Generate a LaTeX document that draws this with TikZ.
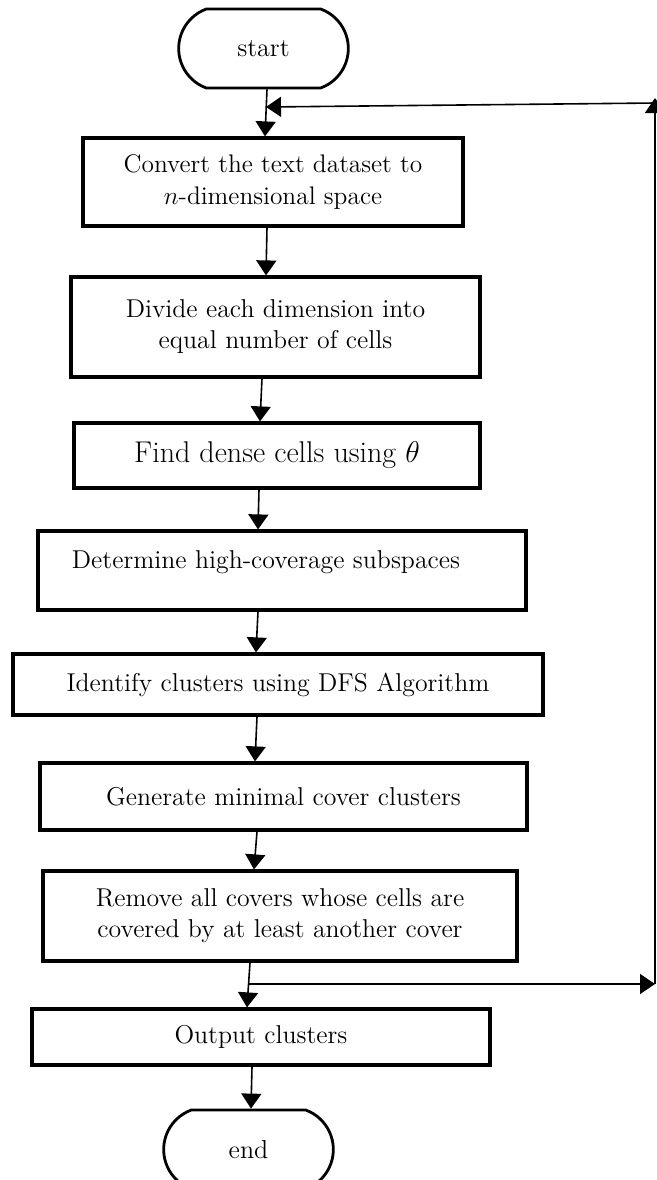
\RequirePackage{fix-cm}
\documentclass[tikz,border=0pt]{standalone}
\usetikzlibrary{shapes.misc,arrows.meta}
\tikzset{
  procbox/.style={draw, line width=1.6pt, rectangle, align=center, inner sep=2pt,
    font=\fontsize{12.9}{15.5}\selectfont},
  termbox/.style={draw, line width=1.4pt, rounded rectangle, rounded rectangle arc length=140,
    minimum width=91.5pt, minimum height=39.5pt, font=\fontsize{13}{15.5}\selectfont},
  flow/.style={line width=0.8pt, -{Triangle[length=7.5pt,width=10pt]}},
}
\begin{document}
\begin{tikzpicture}[x=0.5pt,y=-0.5pt]
		\useasboundingbox (0,0) rectangle (657,1180);
		%terminals
		\node[termbox] (start) at (263.5,48.5) {start};
		\node[termbox] (end) at (248.5,1149.5) {end};
		
		%process steps
		\node[procbox, minimum width=190pt, minimum height=44pt, font=\fontsize{12.7}{16}\selectfont] (convert) at (273,182) {Convert the text dataset to\\$n$-dimensional space};
		\node[procbox, minimum width=204.5pt, minimum height=50pt] (divide) at (275.5,327) {Divide each dimension into\\equal number of cells};
		\node[procbox, minimum width=203pt, minimum height=32.5pt, font=\fontsize{15}{18}\selectfont] (dense) at (277,455.5) {Find dense cells using $\theta$};
		\node[procbox, minimum width=244pt, minimum height=39.5pt, text height=9pt, text depth=11.5pt] (subsp) at (282,570.5) {Determine high-coverage subspaces\hspace*{16pt}};
		\node[procbox, minimum width=265pt, minimum height=30.5pt] (ident) at (278,684.5) {Identify clusters using DFS Algorithm};
		\node[procbox, minimum width=243.5pt, minimum height=33.5pt] (mincov) at (283.5,796.5) {Generate minimal cover clusters};
		\node[procbox, minimum width=237pt, minimum height=45pt] (remove) at (280,916) {Remove all covers whose cells are\\covered by at least another cover};
		\node[procbox, minimum width=229pt, minimum height=28pt] (output) at (261,1037) {Output clusters};
		
		%main flow
		\draw[flow] ([xshift=1.75pt]start.south) -- ([xshift=-4pt]convert.north);
		\draw[flow] ([xshift=-3pt]convert.south) -- ([xshift=-4.75pt]divide.north);
		\draw[flow] ([xshift=-6.75pt]divide.south) -- ([xshift=-8.5pt]dense.north);
		\draw[flow] ([xshift=-9pt]dense.south) -- ([xshift=-12pt]subsp.north);
		\draw[flow] ([xshift=-12pt]subsp.south) -- ([xshift=-11pt]ident.north);
		\draw[flow] ([xshift=-10.5pt]ident.south) -- ([xshift=-14.25pt]mincov.north);
		\draw[flow] ([xshift=-13.25pt]mincov.south) -- ([xshift=-13pt]remove.north);
		\draw[flow] ([xshift=-15pt]remove.south) -- ([xshift=-7pt]output.north);
		\draw[flow] ([xshift=-4.5pt]output.south) -- ([xshift=1.25pt]end.north);
		
		%feedback loop
		\coordinate (split) at (249,984);
		\coordinate (rbot) at (655,984);
		\coordinate (rtop) at (655,98);
		\coordinate (join) at (266,107);
		\draw[flow] (split) -- (rbot);
		\draw[flow] (rbot) -- (rtop);
		\draw[flow] ([yshift=-2.5pt]rtop) -- (join);
\end{tikzpicture}
\end{document}
